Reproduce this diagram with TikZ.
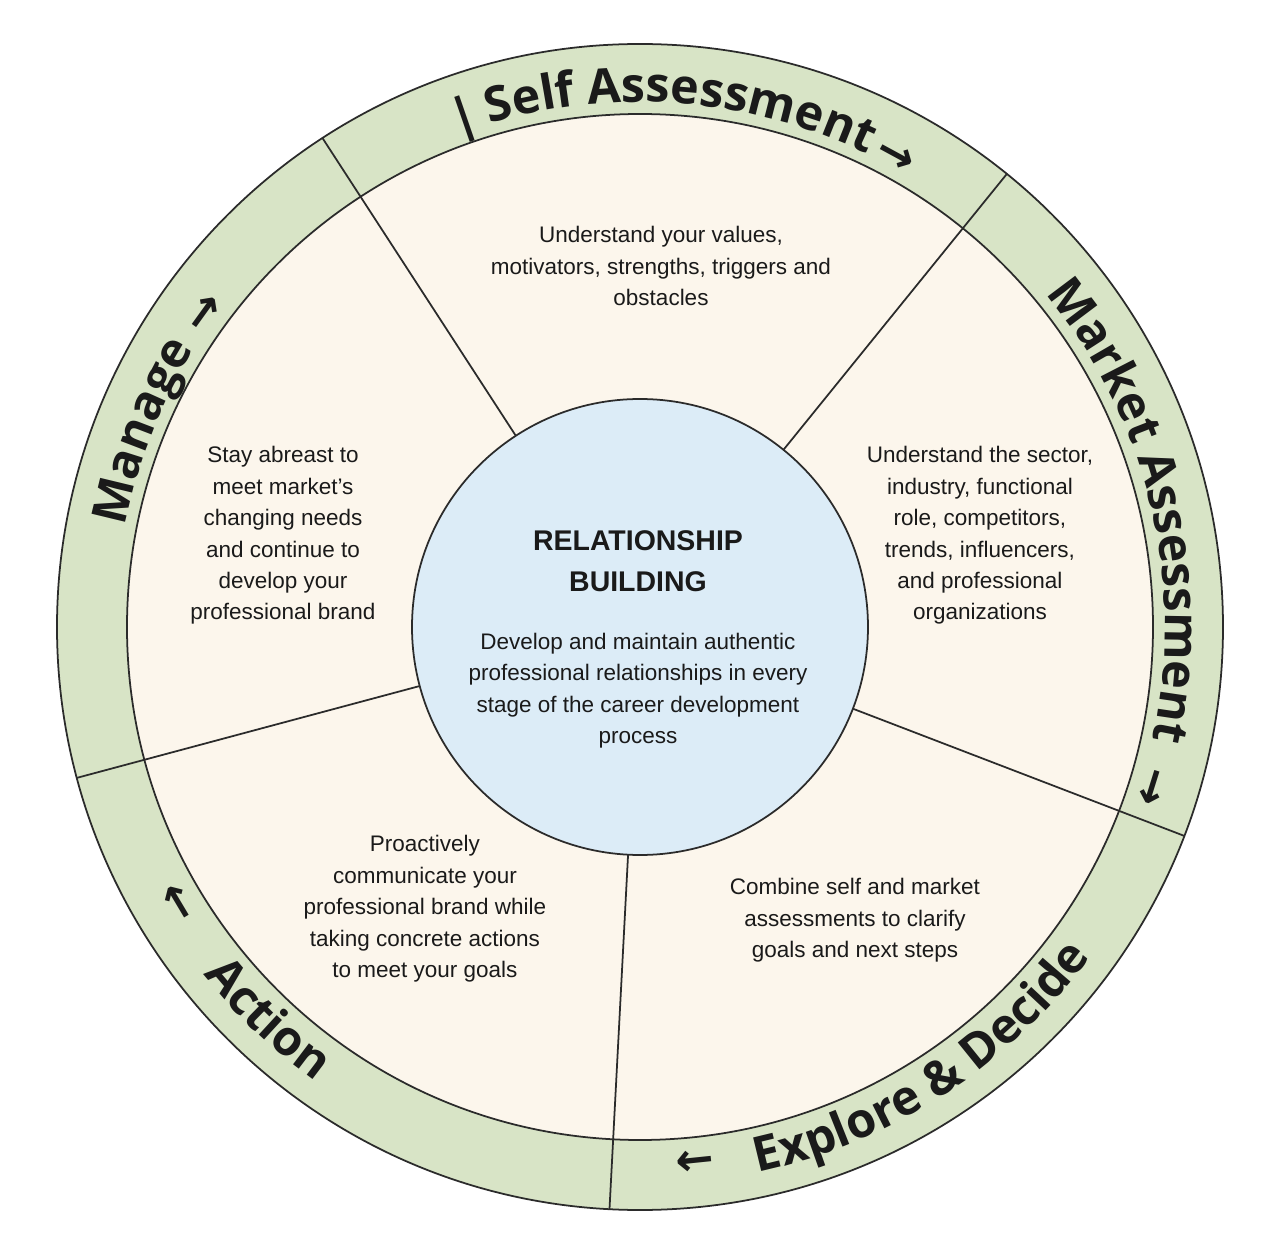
\documentclass[tikz,border=0pt]{standalone}
\usepackage{fontspec}
\setmainfont{Liberation Sans}
\newfontfamily\ringfont{Open Sans}
\newfontfamily\arrowfont{DejaVu Sans}
\usepackage{xcolor}
\usepackage{tikz}
\usetikzlibrary{decorations.text}

\definecolor{ringgreen}{HTML}{D8E4C6}
\definecolor{sectorcream}{HTML}{FCF6EC}
\definecolor{hubblue}{HTML}{DCECF7}
\definecolor{edgegray}{HTML}{2B2B2B}
\definecolor{ink}{HTML}{1A1A1A}

\newcommand{\ringstyle}{\ringfont\bfseries\fontsize{27.5pt}{30pt}\selectfont}

\begin{document}
\begin{tikzpicture}[
    line join=round,
    disc/.style={circle, draw=edgegray, line width=1pt, inner sep=0pt, outer sep=0pt},
    divider/.style={draw=edgegray, line width=1pt},
    blurb/.style={align=center, text=ink, font=\fontsize{12.8pt}{17.9pt}\selectfont},
    hubtitle/.style={align=center, text=ink, font=\bfseries\fontsize{16.2pt}{23.3pt}\selectfont},
    ringtext/.style={decorate, decoration={text along path, text align=center, text color=ink, text={|\ringstyle|#1}}},
    ringarrow/.style={text=ink, inner sep=0pt, font=\arrowfont\bfseries\fontsize{26pt}{26pt}\selectfont},
    ringbar/.style={text=ink, inner sep=0pt, font=\ringstyle},
]
\useasboundingbox (-12.8,-12.6) rectangle (12.8,12.54);
\fill[white] (-12.8,-12.6) rectangle (12.8,12.54);

% ─── Discs: outer ring, sector field, hub ───
\node[disc, fill=ringgreen, minimum size=23.32cm] (rim) at (0, 0) {};
\node[disc, fill=sectorcream, minimum size=20.52cm] (field) at (0, 0) {};
\node[disc, fill=hubblue, minimum size=9.12cm] (hub) at (0, 0) {};

% ─── Sector dividers ───
\foreach \a in {123.4, 51.4, 339.4, 267.4, 195.4}
    \draw[divider] (hub.\a) -- (rim.\a);

% ─── Ring labels (clockwise cycle) ───
\path[ringtext={Self Assessment}]   (125.5:10.5) arc[start angle=125.5, end angle=45.5,  radius=10.5];
\path[ringtext={Market Assessment}] (53.5:10.5)  arc[start angle=53.5,  end angle=-26.5, radius=10.5];
\path[ringtext={Manage}]            (198.5:10.5) arc[start angle=198.5, end angle=118.5, radius=10.5];
\path[ringtext={Explore {\&} Decide}] (-97:11.16) arc[start angle=-97, end angle=-17,  radius=11.16];
\path[ringtext={Action}]            (186.5:11.16) arc[start angle=186.5, end angle=266.5, radius=11.16];

\node[ringbar, rotate=19] (selfbar) at (109:10.75) {|};

\node[ringarrow, rotate=-28.5]  (selfarrow)    at (61.5:10.7)  {→};
\node[ringarrow, rotate=-107.3] (marketarrow)  at (-17.3:10.7) {→};
\node[ringarrow, rotate=-174.1] (explorearrow) at (-84.1:10.7) {→};
\node[ringarrow, rotate=120.8]  (actionarrow)  at (210.8:10.7) {→};
\node[ringarrow, rotate=54.2]   (managearrow)  at (144.2:10.7) {→};

% ─── Sector texts ───
\node[blurb] (selftext) at (0.42, 7.22)
    {Understand your values,\\motivators, strengths, triggers and\\obstacles};
\node[blurb] (markettext) at (6.8, 1.83)
    {Understand the sector,\\industry, functional\\role, competitors,\\trends, influencers,\\and professional\\organizations};
\node[blurb] (exploretext) at (4.3, -5.87)
    {Combine self and market\\assessments to clarify\\goals and next steps};
\node[blurb] (actiontext) at (-4.3, -5.64)
    {Proactively\\communicate your\\professional brand while\\taking concrete actions\\to meet your goals};
\node[blurb] (managetext) at (-7.14, 1.83)
    {Stay abreast to\\meet market’s\\changing needs\\and continue to\\develop your\\professional brand};

% ─── Hub ───
\node[hubtitle] (hubhead) at (-0.04, 1.31) {RELATIONSHIP\\BUILDING};
\node[blurb] (hubtext) at (-0.04, -1.27)
    {Develop and maintain authentic\\professional relationships in every\\stage of the career development\\process};

\end{tikzpicture}
\end{document}
